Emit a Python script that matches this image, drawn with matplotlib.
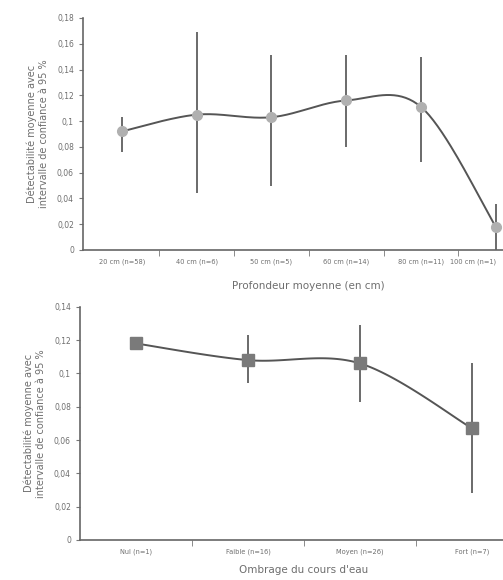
import numpy as np
import matplotlib
matplotlib.use("Agg")
import matplotlib.pyplot as plt

# data
prof_labels = ["20 cm (n=58)", "40 cm (n=6)", "50 cm (n=5)", "60 cm (n=14)",
               "80 cm (n=11)", "100 cm (n=1)"]
prof_mean = [0.092, 0.105, 0.103, 0.116, 0.111, 0.018]
prof_low = [0.076, 0.044, 0.050, 0.080, 0.068, 0.0]
prof_high = [0.103, 0.169, 0.151, 0.151, 0.150, 0.036]

omb_labels = ["Nul (n=1)", "Faible (n=16)", "Moyen (n=26)", "Fort (n=7)"]
omb_mean = [0.118, 0.108, 0.106, 0.067]
omb_low = [0.118, 0.094, 0.083, 0.028]
omb_high = [0.118, 0.123, 0.129, 0.106]

ylab = "Détectabilité moyenne avec\nintervalle de confiance à 95 %"
txt = "#6e6e6e"
plt.rcParams["font.family"] = ["DejaVu Sans"]


def smooth(x, y, n=40):
    # catmull-rom style smoothing (like a spreadsheet "smoothed line")
    x = np.asarray(x, float)
    y = np.asarray(y, float)
    px = np.concatenate([[x[0]], x, [x[-1]]])
    py = np.concatenate([[y[0]], y, [y[-1]]])
    xs, ys = [], []
    t = np.linspace(0, 1, n)
    for i in range(1, len(px) - 2):
        p0 = np.array([px[i], py[i]])
        p3 = np.array([px[i + 1], py[i + 1]])
        c1 = p0 + (np.array([px[i + 1], py[i + 1]]) - np.array([px[i - 1], py[i - 1]])) / 6
        c2 = p3 - (np.array([px[i + 2], py[i + 2]]) - np.array([px[i], py[i]])) / 6
        b = ((1 - t) ** 3)[:, None] * p0 + (3 * (1 - t) ** 2 * t)[:, None] * c1 \
            + (3 * (1 - t) * t ** 2)[:, None] * c2 + (t ** 3)[:, None] * p3
        xs.append(b[:, 0])
        ys.append(b[:, 1])
    return np.concatenate(xs), np.concatenate(ys)


def panel(ax, labels, mean, low, high, ymax, marker, msize, mcol, xlabel, xpad):
    x = np.arange(len(labels))
    mean = np.array(mean)
    err = [mean - np.array(low), np.array(high) - mean]
    ax.errorbar(x, mean, yerr=err, fmt="none", ecolor="#6a6a6a", elinewidth=1.4,
                capsize=0, zorder=2)
    sx, sy = smooth(x, mean)
    ax.plot(sx, sy, color="#555555", lw=1.4, zorder=3)
    ax.plot(x, mean, marker, ms=msize, color=mcol, mec=mcol, zorder=4, ls="none")
    ax.set_ylim(0, ymax)
    ax.set_yticks(np.arange(0, ymax + 1e-9, 0.02))
    ax.set_yticklabels([("0" if v < 1e-9 else f"{v:.2f}".rstrip("0").replace(".", ","))
                        for v in np.arange(0, ymax + 1e-9, 0.02)])
    ax.set_xticks(x)
    ax.set_xticklabels(labels)
    ax.set_xticks(x[:-1] + 0.5, minor=True)
    ax.tick_params(axis="x", which="major", length=0, labelsize=4.8, colors=txt, pad=6)
    ax.tick_params(axis="x", which="minor", length=4, color="#777777", direction="out")
    ax.tick_params(axis="y", length=3, labelsize=5.5, colors=txt, color="#777777")
    for s in ["top", "right"]:
        ax.spines[s].set_visible(False)
    for s in ["left", "bottom"]:
        ax.spines[s].set_color("#666666")
        ax.spines[s].set_linewidth(1.2)
    ax.set_ylabel(ylab, fontsize=7, color=txt, labelpad=6)
    ax.set_xlabel(xlabel, fontsize=7.5, color=txt, labelpad=xpad)


fig = plt.figure(figsize=(5.03, 5.80), dpi=100)
ax1 = fig.add_axes([0.165, 0.569, 0.895, 0.400])
panel(ax1, prof_labels, prof_mean, prof_low, prof_high, 0.18, "o", 7, "#b0b0b0",
      "Profondeur moyenne (en cm)", 12)
ax1.set_xlim(-0.52, 5.5)
# the last label runs off the page in the scan; keep it inside the figure
last = ax1.get_xticklabels()[-1]
last.set_horizontalalignment("right")
last.set_x(5.08)

ax2 = fig.add_axes([0.159, 0.069, 0.891, 0.402])
panel(ax2, omb_labels, omb_mean, omb_low, omb_high, 0.14, "s", 8, "#7a7a7a",
      "Ombrage du cours d'eau", 7)
ax2.set_xlim(-0.5, 3.5)

fig.savefig("out.png", dpi=100)
